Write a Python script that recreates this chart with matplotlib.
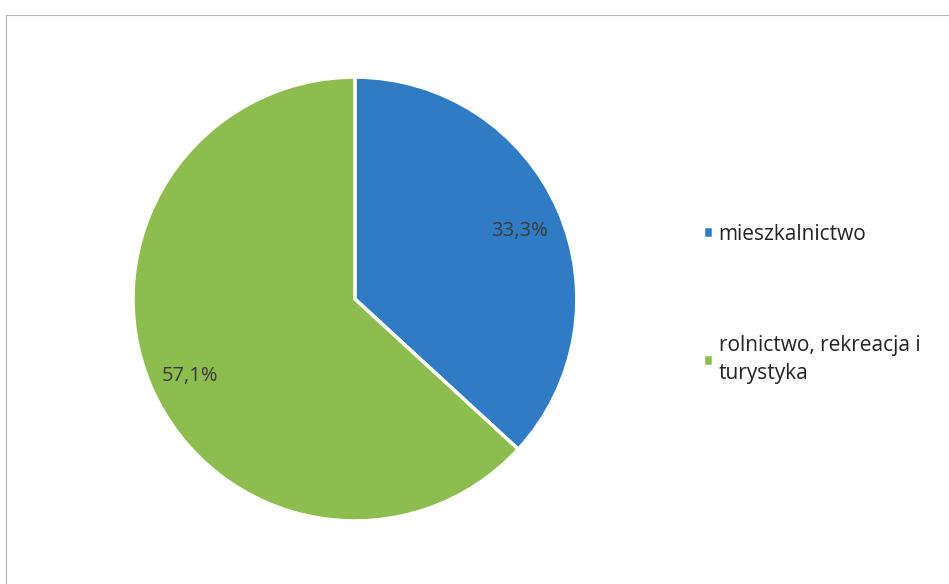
import matplotlib.pyplot as plt
import numpy as np
from matplotlib.lines import Line2D

# land use shares (%)
categories = ['mieszkalnictwo', 'rolnictwo, rekreacja i\nturystyka']
shares = [33.3, 57.1]
colors = ['#2f7cc5', '#8dbd4f']

plt.rcParams['font.family'] = ['Open Sans', 'DejaVu Sans']

fig = plt.figure(figsize=(9.49, 5.84), dpi=100)
ax = fig.add_axes([0.374 - 0.234, 0.488 - 0.38, 0.468, 0.76])

labels_pct = [f'{v:.1f}%'.replace('.', ',') for v in shares]
wedges, _ = ax.pie(shares, colors=colors, startangle=90, counterclock=False,
                   wedgeprops=dict(edgecolor='white', linewidth=2.5))
ax.set_aspect('equal')
ax.set_xlim(-1.0, 1.0)
ax.set_ylim(-1.0, 1.0)

# percentage labels placed along each wedge's bisector
for w, txt in zip(wedges, labels_pct):
    mid = np.deg2rad((w.theta1 + w.theta2) / 2)
    r = 0.81
    ax.text(r * np.cos(mid), r * np.sin(mid) - 0.02, txt, ha='center', va='center',
            fontsize=14.5, color='#3a3a3a')

# legend on the right
leg = fig.legend(wedges, categories, loc='upper left',
                 bbox_to_anchor=(0.721, 0.649), frameon=False,
                 fontsize=15, handlelength=0.5, handleheight=0.5,
                 handletextpad=0.25, labelspacing=4.35)
for t in leg.get_texts():
    t.set_color('#222222')
    t.set_linespacing(1.4)

# thin frame lines along the top and left
fig.add_artist(Line2D([0.006, 1.0], [1 - 15 / 584, 1 - 15 / 584],
                      transform=fig.transFigure, color='#b0b0b0', lw=0.8))
fig.add_artist(Line2D([0.006, 0.006], [0.0, 1 - 15 / 584],
                      transform=fig.transFigure, color='#b0b0b0', lw=0.8))

fig.savefig('out.png', dpi=100)
